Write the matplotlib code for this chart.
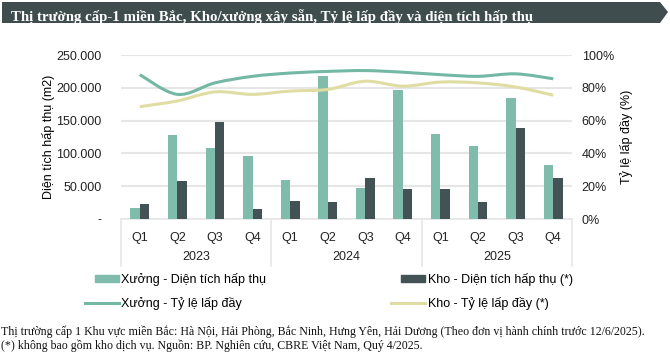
import numpy as np
import matplotlib
matplotlib.use("Agg")
import matplotlib.pyplot as plt
from matplotlib.path import Path
from matplotlib.patches import PathPatch, Patch, Polygon, Rectangle
from matplotlib.lines import Line2D
from matplotlib.legend_handler import HandlerPatch
from matplotlib.ticker import FuncFormatter, MultipleLocator

# data
quarters = ["Q1", "Q2", "Q3", "Q4"] * 3
years = ["2023", "2024", "2025"]
xuong_area = [17000, 128000, 108000, 96000, 60000, 218000, 47000, 196000, 130000, 111000, 184000, 83000]
kho_area = [23000, 58000, 148000, 15000, 28000, 26000, 62000, 45000, 46000, 26000, 138000, 62000]
xuong_occ = [88, 76, 83, 87, 89, 90, 90.5, 89.5, 88, 87, 88.5, 85.5]
kho_occ = [68.5, 72, 77.5, 76, 78, 79, 84, 81, 83.5, 83, 80.5, 75.5]

C_XUONG = "#7fbcab"
C_KHO = "#435254"
C_XLINE = "#72b8a5"
C_KLINE = "#e0dda2"
C_GRID = "#e6e6e6"
C_BANNER = "#3f4d4f"

plt.rcParams['font.family'] = ['Liberation Sans', 'DejaVu Sans']
plt.rcParams['font.size'] = 9


def smooth_path(x, y):
    # excel-like smoothed line: cubic bezier through every point
    x = np.asarray(x, float)
    y = np.asarray(y, float)
    verts = [(x[0], y[0])]
    codes = [Path.MOVETO]
    n = len(x)
    for i in range(n - 1):
        x0, y0 = (x[i - 1], y[i - 1]) if i > 0 else (x[i], y[i])
        x3, y3 = (x[i + 2], y[i + 2]) if i + 2 < n else (x[i + 1], y[i + 1])
        c1 = (x[i] + (x[i + 1] - x0) / 6, y[i] + (y[i + 1] - y0) / 6)
        c2 = (x[i + 1] - (x3 - x[i]) / 6, y[i + 1] - (y3 - y[i]) / 6)
        verts += [c1, c2, (x[i + 1], y[i + 1])]
        codes += [Path.CURVE4] * 3
    return Path(verts, codes)


def short_box(legend, orig_handle, xdescent, ydescent, width, height, fontsize):
    # bar swatch is shorter than the line swatch, right aligned
    w = width * 0.7
    h = 7 * 0.72
    return Rectangle((width - w - xdescent, height / 2 - h / 2 - ydescent), w, h)


W, H = 670, 361
fig = plt.figure(figsize=(W / 100, H / 100), dpi=100)

# title banner with arrow tip
banner = Polygon([(2 / W, 1 - 2 / H), (660 / W, 1 - 2 / H), (668 / W, 1 - 12 / H),
                  (660 / W, 1 - 23 / H), (2 / W, 1 - 23 / H)],
                 closed=True, transform=fig.transFigure, color=C_BANNER, lw=0)
fig.patches.append(banner)
fig.text(11 / W, 1 - 21 / H,
         "Thị trường cấp-1 miền Bắc, Kho/xưởng xây sẵn, Tỷ lệ lấp đầy và diện tích hấp thụ",
         color="white", fontsize=10.7, fontweight="bold", va="baseline",
         family=["Liberation Serif", "DejaVu Serif"])

ax = fig.add_axes([121 / W, 1 - 219 / H, 451 / W, 164 / H])
ax2 = ax.twinx()

x = np.arange(len(quarters))
bw = 0.25
ax.bar(x - bw / 2, xuong_area, bw, color=C_XUONG, zorder=3)
ax.bar(x + bw / 2, kho_area, bw, color=C_KHO, zorder=3)

ax.set_xlim(-0.5, len(quarters) - 0.5)
ax.set_ylim(0, 250000)
ax.yaxis.set_major_locator(MultipleLocator(50000))
ax.yaxis.set_major_formatter(FuncFormatter(
    lambda v, p: "-" if v == 0 else f"{int(v):,}".replace(",", ".")))
ax.grid(axis="y", color=C_GRID, lw=1.5, zorder=0)
ax.set_axisbelow(True)
for s in ["top", "left", "right"]:
    ax.spines[s].set_visible(False)
ax.spines["bottom"].set_color(C_GRID)
ax.spines["bottom"].set_linewidth(1.2)
ax.tick_params(axis="both", length=0, colors="#222222", labelsize=9)
ax.tick_params(axis="y", pad=14)
ax.set_xticks(x)
ax.set_xticklabels(quarters)
ax.tick_params(axis="x", pad=9)
ax.set_ylabel("Diện tích hấp thụ (m2)", fontsize=9, labelpad=1)

# year labels and separators under the axis
for i, yr in enumerate(years):
    ax.text(4 * i + 1.5, -38 / 164, yr, transform=ax.get_xaxis_transform(),
            ha="center", va="center", fontsize=9, color="#222222")
for b in range(len(years) + 1):
    ax.add_line(Line2D([4 * b - 0.5, 4 * b - 0.5], [0, -47 / 164], transform=ax.get_xaxis_transform(),
                       color=C_GRID, lw=1.2, clip_on=False))

ax2.set_ylim(0, 100)
ax2.yaxis.set_major_locator(MultipleLocator(20))
ax2.yaxis.set_major_formatter(FuncFormatter(lambda v, p: f"{int(v)}%"))
for s in ax2.spines.values():
    s.set_visible(False)
ax2.tick_params(axis="y", length=0, colors="#222222", labelsize=9, pad=7)
ax2.set_ylabel("Tỷ lệ lấp đầy (%)", fontsize=9, labelpad=4)

ax2.add_patch(PathPatch(smooth_path(x, xuong_occ), fill=False, ec=C_XLINE, lw=2.2, zorder=4))
ax2.add_patch(PathPatch(smooth_path(x, kho_occ), fill=False, ec=C_KLINE, lw=2.2, zorder=4))

handles = [Patch(color=C_XUONG), Line2D([], [], color=C_XLINE, lw=2.2),
           Patch(color=C_KHO), Line2D([], [], color=C_KLINE, lw=2.2)]
labels = ["Xưởng - Diện tích hấp thụ", "Xưởng - Tỷ lệ lấp đầy",
          "Kho - Diện tích hấp thụ (*)", "Kho - Tỷ lệ lấp đầy (*)"]
fig.legend(handles, labels, ncol=2, loc="upper left", bbox_to_anchor=(85 / W, 1 - 273 / H),
           frameon=False, borderpad=0, borderaxespad=0, handlelength=2.7, handleheight=0.5,
           handletextpad=0.2, columnspacing=10.0, labelspacing=0.86, fontsize=9,
           handler_map={Patch: HandlerPatch(patch_func=short_box)})

notes = ("Thị trường cấp 1 Khu vực miền Bắc: Hà Nội, Hải Phòng, Bắc Ninh, Hưng Yên, Hải Dương "
         "(Theo đơn vị hành chính trước 12/6/2025).\n"
         "(*) không bao gồm kho dịch vụ. Nguồn: BP. Nghiên cứu, CBRE Việt Nam, Quý 4/2025.")
fig.text(1 / W, 1 - 326 / H, notes, fontsize=8.55, va="top", ha="left", linespacing=1.08,
         family=["Liberation Serif", "DejaVu Serif"], color="#111111")

fig.savefig("out.png", dpi=100)
